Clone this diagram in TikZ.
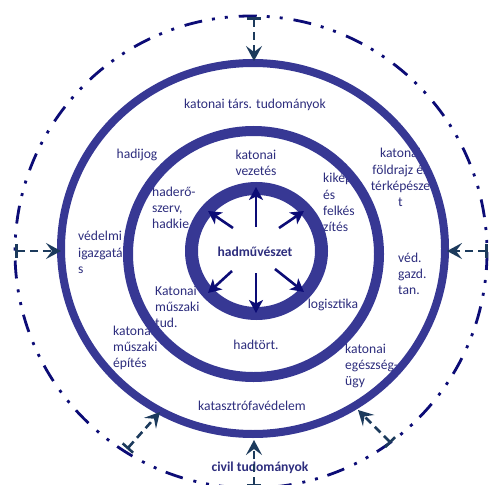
\documentclass[tikz,border=0pt]{standalone}
\usepackage{fontspec}
\setmainfont{Carlito}
\usetikzlibrary{arrows.meta}
\definecolor{ringc}{RGB}{55,56,148}
\definecolor{navyc}{RGB}{12,12,118}
\definecolor{connc}{RGB}{28,58,92}
\definecolor{textc}{RGB}{45,45,125}
\begin{document}
\begin{tikzpicture}[x=1pt,y=-1pt,
 lbl/.style={text=textc, font=\fontsize{13.6}{16.3}\selectfont, inner sep=0pt, align=center},
 lbll/.style={lbl, align=left, anchor=west},
 lblb/.style={lbl, font=\fontsize{13.6}{16.3}\selectfont\bfseries},
 ringline/.style={draw=ringc},
 conn/.style={draw=connc, line width=2.6pt, dash pattern=on 8pt off 5pt,
   {Bar[width=14pt]}-{Stealth[length=15pt,width=16pt,inset=6pt]}},
 ray/.style={draw=navyc, line width=2.6pt, -{Stealth[length=13pt,width=14pt,inset=3.5pt]}}]
\useasboundingbox (0,0) rectangle (492,484);
% labels
\node[lbl] (tars) at (255,105) {katonai társ. tudományok};
\node[lbl] (hadijog) at (137,155) {hadijog};
\node[lbl] (vezetes) at (256,163) {katonai\\vezetés};
\node[lbll] (haderoszerv) at (152,208) {haderő-\\szerv,\\hadkie};
\node[lbll] (kikep) at (323,202.5) {kikép\\és\\felkés\\zítés};
\node[lbl] (foldrajz) at (400.5,177.5) {katonai\\földrajz és\\térképésze\\t};
\node[lbll] (vedelmi) at (78,252.5) {védelmi\\igazgatá\\s};
\node[lblb] (hadmu) at (255,252) {hadművészet};
\node[lbll] (vedgazd) at (398,274) {véd.\\gazd.\\tan.};
\node[lbll] (katmusz) at (155,307) {Katonai\\műszaki\\tud.};
\node[lbl] (logiszt) at (333,305) {logisztika};
\node[lbl] (hadtort) at (256,345) {hadtört.};
\node[lbll] (katepit) at (113,348) {katonai\\műszaki\\építés};
\node[lbll] (egeszseg) at (345,366) {katonai\\egészség-\\ügy};
\node[lbl] (katasztrofa) at (252,406) {katasztrófavédelem};
\node[lblb] (civil) at (260,468) {civil tudományok};
% rings
\draw[ringline, line width=8pt] (253,248.5) ellipse [x radius=192, y radius=185.5];
\draw[ringline, line width=10pt] (253.5,254) ellipse [x radius=125.5, y radius=123];
\draw[ringline, line width=13pt] (256.5,251) ellipse [x radius=65, y radius=62.5];
% outer dash-dot-dot circle
\draw[navyc, line width=2.8pt, dash pattern=on 18pt off 10pt on 3pt off 10pt on 3pt off 11pt] (251,252) circle [radius=236];
% connectors from civil sciences
\coordinate (tT) at (254,17);   \coordinate (hT) at (254,61);
\coordinate (tL) at (15,251);   \coordinate (hL) at (61,251);
\coordinate (tR) at (488,251);  \coordinate (hR) at (447,251);
\coordinate (tB) at (254,487);  \coordinate (hB) at (254,440);
\coordinate (tBL) at (127,449); \coordinate (hBL) at (160,412);
\coordinate (tBR) at (391,443); \coordinate (hBR) at (358,410);
\draw[conn] (tT) -- (hT);
\draw[conn] (tL) -- (hL);
\draw[conn] (tR) -- (hR);
\draw[conn] (tB) -- (hB);
\draw[conn] (tBL) -- (hBL);
\draw[conn] (tBR) -- (hBR);
% inner rays
\coordinate (rU0) at (256,227);  \coordinate (rU1) at (256,187);
\coordinate (rUL0) at (233,228); \coordinate (rUL1) at (208,211);
\coordinate (rUR0) at (279,228); \coordinate (rUR1) at (304,211);
\coordinate (rDL0) at (232,271); \coordinate (rDL1) at (208,293);
\coordinate (rD0) at (256,273);  \coordinate (rD1) at (256,313);
\coordinate (rDR0) at (275,269); \coordinate (rDR1) at (304,292);
\draw[ray] (rU0) -- (rU1);
\draw[ray] (rUL0) -- (rUL1);
\draw[ray] (rUR0) -- (rUR1);
\draw[ray] (rDL0) -- (rDL1);
\draw[ray] (rD0) -- (rD1);
\draw[ray] (rDR0) -- (rDR1);
\end{tikzpicture}
\end{document}
